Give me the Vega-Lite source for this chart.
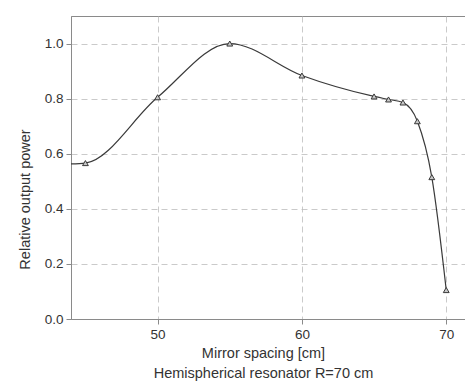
{
  "$schema": "https://vega.github.io/schema/vega-lite/v6.json",
  "autosize": {"type": "none"},
  "width": 394,
  "height": 303,
  "padding": {"left": 71, "top": 16, "right": 0, "bottom": 64},
  "background": "white",
  "config": {
    "view": {"stroke": "#8a8a8a", "strokeWidth": 1},
    "font": "Liberation Sans",
    "axis": {
      "labelFont": "Liberation Sans",
      "titleFont": "Liberation Sans",
      "labelFontSize": 13.5,
      "titleFontSize": 14.5,
      "labelColor": "#333",
      "titleColor": "#333",
      "titleFontWeight": "normal",
      "domainColor": "#8a8a8a",
      "tickColor": "#8a8a8a",
      "tickSize": 5,
      "gridColor": "#bcbcbc",
      "gridDash": [6, 4],
      "gridWidth": 0.8
    }
  },
  "data": {
    "values": [
      {"x": 44.0, "y": 0.563, "measured": false},
      {"x": 45, "y": 0.566, "measured": true},
      {"x": 50, "y": 0.805, "measured": true},
      {"x": 55, "y": 1.0, "measured": true},
      {"x": 60, "y": 0.884, "measured": true},
      {"x": 65, "y": 0.808, "measured": true},
      {"x": 66, "y": 0.797, "measured": true},
      {"x": 67, "y": 0.786, "measured": true},
      {"x": 68, "y": 0.718, "measured": true},
      {"x": 69, "y": 0.515, "measured": true},
      {"x": 70, "y": 0.105, "measured": true}
    ]
  },
  "encoding": {
    "x": {
      "field": "x",
      "type": "quantitative",
      "scale": {"domain": [44, 71.3], "nice": false, "zero": false},
      "axis": {
        "values": [50, 60, 70],
        "title": ["Mirror spacing [cm]", "Hemispherical resonator R=70 cm"],
        "titleLineHeight": 20,
        "titleX": 192,
        "titlePadding": 6,
        "labelPadding": 3
      }
    },
    "y": {
      "field": "y",
      "type": "quantitative",
      "scale": {"domain": [0, 1.1], "nice": false},
      "axis": {
        "values": [0, 0.2, 0.4, 0.6, 0.8, 1.0],
        "format": ".1f",
        "title": "Relative output power",
        "titleX": -46,
        "titleY": 183,
        "titleAngle": -90,
        "titleAlign": "center",
        "titleBaseline": "middle",
        "labelPadding": 3
      }
    }
  },
  "layer": [
    {
      "mark": {"type": "line", "interpolate": "monotone", "color": "#3a3a3a", "strokeWidth": 1.2}
    },
    {
      "transform": [{"filter": "datum.measured"}],
      "mark": {"type": "point", "shape": "triangle-up", "size": 34, "filled": true, "fill": "#c8c8c8", "stroke": "#3a3a3a", "strokeWidth": 1, "opacity": 1}
    }
  ]
}
